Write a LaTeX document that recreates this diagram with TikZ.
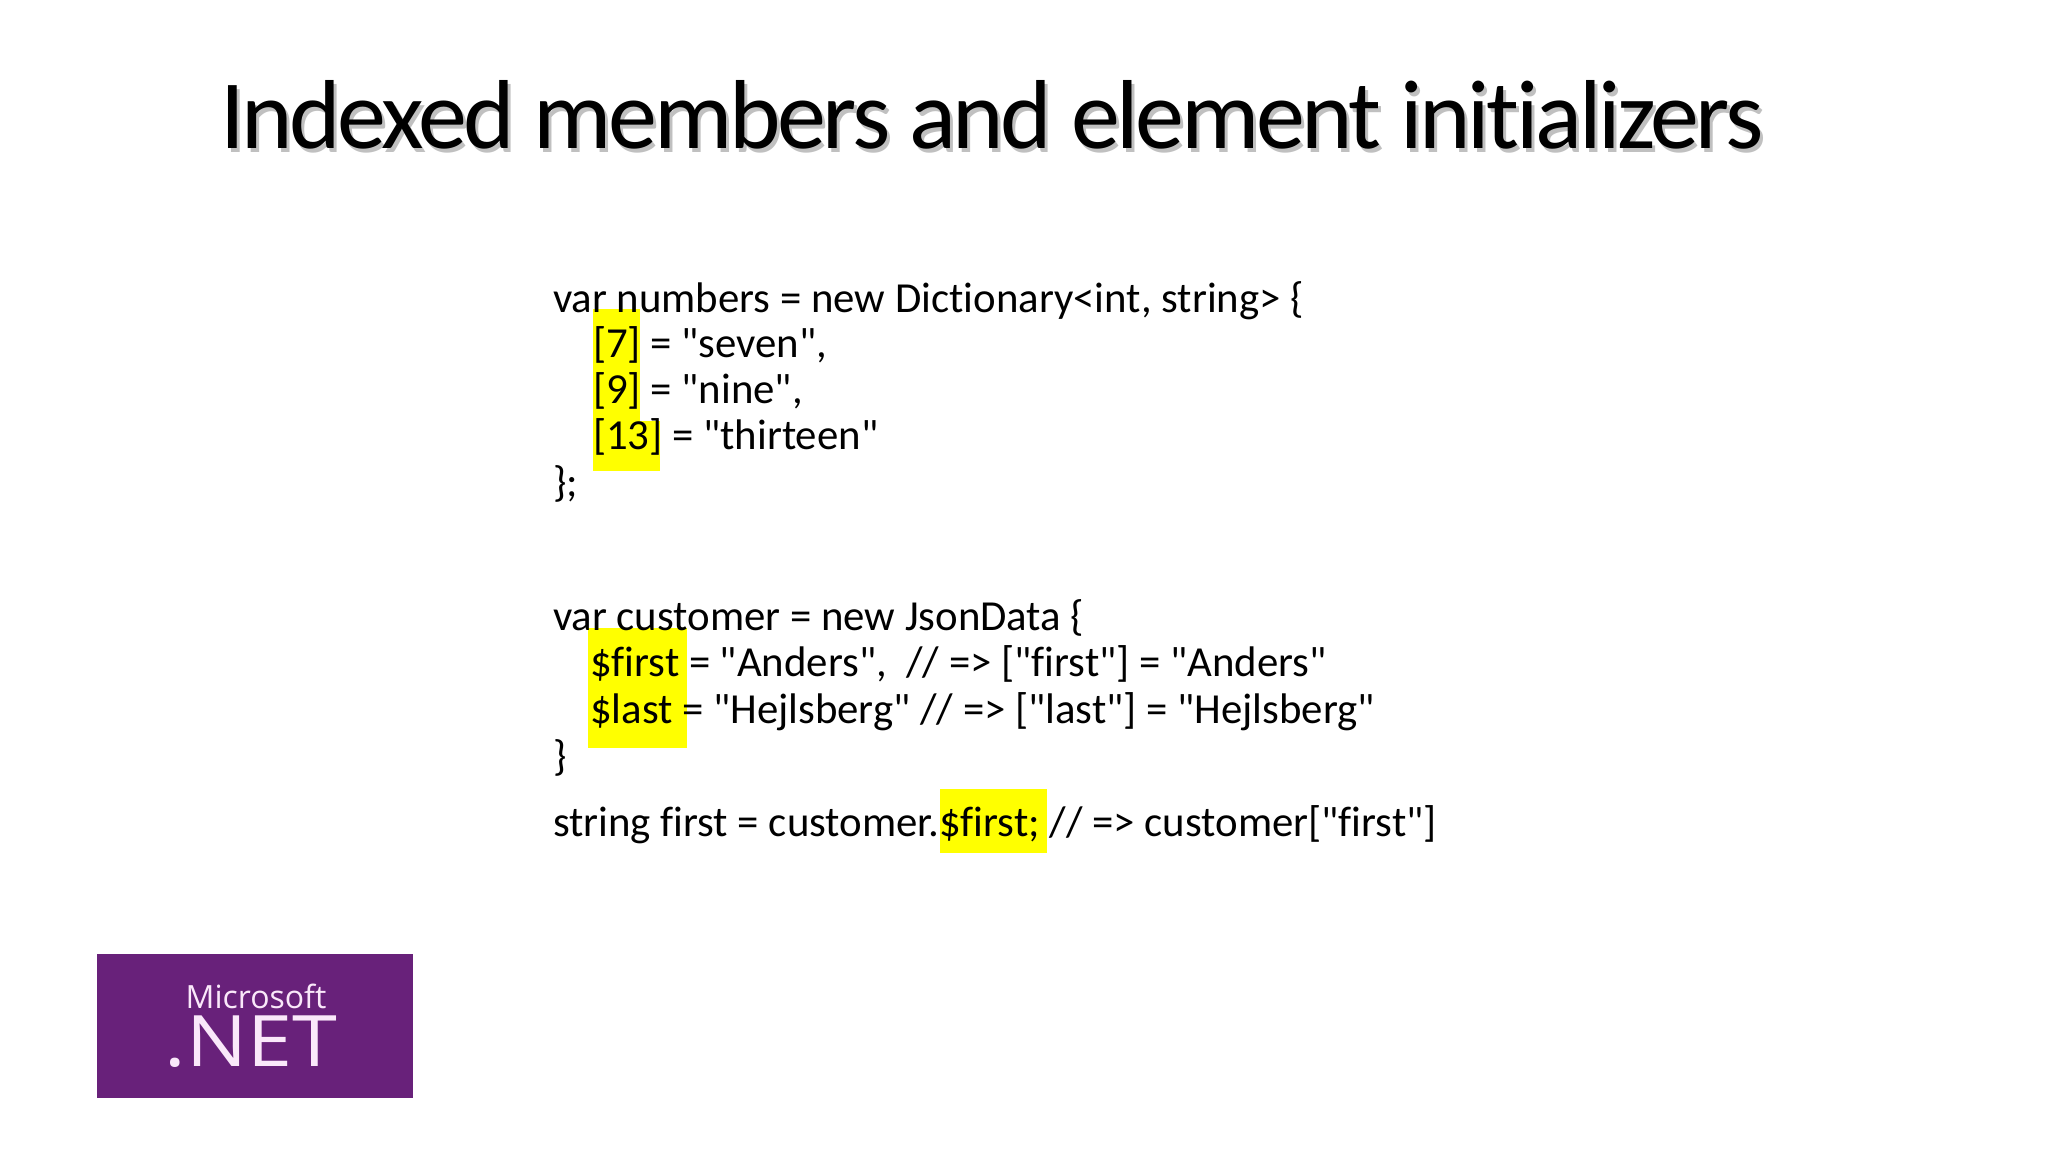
\documentclass[tikz,border=0pt]{standalone}
\usepackage{fontspec}
\setmainfont{Carlito}
\newfontfamily\codefont{Carlito}[Ligatures={NoCommon}]
\newfontfamily\titlefont{Carlito}[Ligatures={NoCommon},LetterSpace=-3.4]
\newfontfamily\logofont{Open Sans}
\definecolor{hl}{RGB}{255,255,0}
\definecolor{netpurple}{RGB}{104,33,122}
\definecolor{logotext}{RGB}{250,232,250}
\tikzset{
  code/.style={anchor=base west,inner sep=0pt,outer sep=0pt,font=\codefont\fontsize{42.8}{46}\selectfont,text=black},
  titletext/.style={anchor=base west,inner sep=0pt,outer sep=0pt,font=\titlefont\fontsize{98}{100}\selectfont},
  hilite/.style={fill=hl,draw=none},
  logobox/.style={fill=netpurple,draw=none}
}
\begin{document}
\begin{tikzpicture}[x=1pt,y=-1pt]
\useasboundingbox (0,0) rectangle (2048,1152);
\fill[white] (0,0) rectangle (2048,1152);
% highlights
\fill[hilite] (593,309) rectangle (640,430);
\fill[hilite] (593,421) rectangle (660,471);
\fill[hilite] (588,628) rectangle (687,748);
\fill[hilite] (940,789) rectangle (1047,853);
% title shadow + title
\node[titletext,text=black!35,opacity=.7] (titleshadow) at (223,152) {Indexed members and element initializers};
\node[titletext,text=black] (title) at (220,148) {Indexed members and element initializers};
% code
\node[code] (l1) at (553,312) {var numbers = new Dictionary<int, string> \{};
\node[code] (l2) at (593,357) {[7] = "seven",};
\node[code] (l3) at (593,403) {[9] = "nine",};
\node[code] (l4) at (593,449) {[13] = "thirteen"};
\node[code] (l5) at (553,496) {\};};
\node[code] (m1) at (553,630) {var customer = new JsonData \{};
\node[code] (m2) at (590,676) {\$first = "Anders",\ \ // => ["first"] = "Anders"};
\node[code] (m3) at (590,723) {\$last = "Hejlsberg" // => ["last"] = "Hejlsberg"};
\node[code] (m4) at (553,770) {\}};
\node[code] (m5) at (553,836) {string first = customer.\$first; // => customer["first"]};
% logo
\fill[logobox] (97,954) rectangle (413,1098);
\node[anchor=base,inner sep=0pt,text=logotext,font=\logofont\fontsize{32}{32}\selectfont] (ms) at (256,1008) {Microsoft};
\node[anchor=base,inner sep=0pt,text=logotext,font=\logofont\fontsize{71}{71}\selectfont,xscale=1.14,transform shape] (net) at (251,1066) {.NET};
\end{tikzpicture}
\end{document}
